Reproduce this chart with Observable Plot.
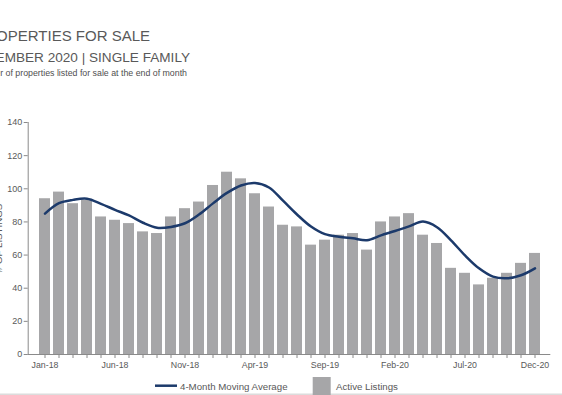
<!DOCTYPE html>
<html>
<head>
<meta charset="utf-8">
<script src="https://cdn.jsdelivr.net/npm/d3@7"></script>
<script src="https://cdn.jsdelivr.net/npm/@observablehq/plot@0.6"></script>
<style>
  html, body { margin: 0; padding: 0; background: #ffffff; overflow: hidden; }
  #wrap { position: relative; width: 562px; height: 395px; font-family: Arial, "Liberation Sans", sans-serif; }
  #chart { position: absolute; left: 0; top: 0; }
  #overlay { position: absolute; left: 0; top: 0; pointer-events: none; }
</style>
</head>
<body>
<div id="wrap">
  <div id="chart"></div>
  <svg id="overlay" width="562" height="395" font-family="Arial, 'Liberation Sans', sans-serif">
    <text x="150" y="41" text-anchor="end" font-size="15" fill="#595959">PROPERTIES FOR SALE</text>
    <text x="190" y="62.3" text-anchor="end" font-size="13.6" fill="#595959">DECEMBER 2020 | SINGLE FAMILY</text>
    <text x="187" y="76" text-anchor="end" font-size="8.8" fill="#4f4f4f">Number of properties listed for sale at the end of month</text>
    <text transform="translate(2,238) rotate(-90)" text-anchor="middle" font-size="9.7" fill="#595959"># OF LISTINGS</text>
    <rect x="0" y="393.5" width="562" height="1.5" fill="#dcdcdc"></rect>
    <line x1="155" x2="177" y1="385.7" y2="385.7" stroke="#1c3a6b" stroke-width="2.5"></line>
    <text x="180" y="390" font-size="9.7" fill="#595959">4-Month Moving Average</text>
    <rect x="312.7" y="377" width="18" height="18" fill="#a6a6a8"></rect>
    <text x="336" y="390" font-size="9.7" fill="#595959">Active Listings</text>
  </svg>
</div>
<script>
// Categories (months)
const months = [
  "Jan-18","Feb-18","Mar-18","Apr-18","May-18","Jun-18","Jul-18","Aug-18","Sep-18","Oct-18","Nov-18","Dec-18",
  "Jan-19","Feb-19","Mar-19","Apr-19","May-19","Jun-19","Jul-19","Aug-19","Sep-19","Oct-19","Nov-19","Dec-19",
  "Jan-20","Feb-20","Mar-20","Apr-20","May-20","Jun-20","Jul-20","Aug-20","Sep-20","Oct-20","Nov-20","Dec-20"
];
// Active listings (bars)
const activeListings = [
  94, 98, 91, 93, 83, 81, 79, 74, 73, 83, 88, 92,
  102, 110, 106, 97, 89, 78, 77, 66, 69, 72, 73, 63,
  80, 83, 85, 72, 67, 52, 49, 42, 46, 49, 55, 61
];
// 4-month moving average (line)
const movingAverage = [
  85, 91.3, 93.3, 94, 90.9, 87.3, 83.9, 79.5, 76.5, 77, 79.2, 84.5,
  91.2, 97.5, 102, 103.5, 100.8, 92.8, 84.5, 77.2, 72.6, 71.1, 70.1, 69,
  71.9, 74.5, 77.3, 80.2, 76.8, 68.9, 59.8, 52, 47, 46, 47.8, 52
];
// Tick labels shown on the x axis
const xTickLabels = ["Jan-18","Jun-18","Nov-18","Apr-19","Sep-19","Feb-20","Jul-20","Dec-20"];
const yTicks = [0, 20, 40, 60, 80, 100, 120, 140];

const data = months.map((m, i) => ({month: m, listings: activeListings[i], ma: movingAverage[i]}));
const shown = new Set(xTickLabels);

const chart = Plot.plot({
  width: 562,
  height: 395,
  marginLeft: 27.7,
  marginRight: 11.7,
  marginTop: 122,
  marginBottom: 41,
  style: {fontFamily: "Arial, 'Liberation Sans', sans-serif", background: "#ffffff", color: "#595959"},
  x: {domain: months, paddingInner: 0.25, paddingOuter: 0.125, label: null},
  y: {domain: [0, 140], label: null},
  marks: [
    Plot.barY(data, {x: "month", y: "listings", fill: "#a6a6a8"}),
    Plot.ruleY([0], {stroke: "#8a8a8a", strokeWidth: 1}),
    Plot.frame({anchor: "left", stroke: "#8a8a8a"}),
    Plot.axisY({ticks: yTicks, tickSize: 4, tickPadding: 2, stroke: "#8a8a8a", fill: "#595959", fontSize: 9, label: null}),
    Plot.axisX({tickSize: 4, tickPadding: 3, stroke: "#8a8a8a", fill: "#595959", fontSize: 8.8, label: null,
      tickFormat: d => shown.has(d) ? d : ""}),
    Plot.line(data, {x: "month", y: "ma", stroke: "#1c3a6b", strokeWidth: 2.5, curve: "catmull-rom"})
  ]
});
document.getElementById("chart").appendChild(chart);
</script>
</body>
</html>
